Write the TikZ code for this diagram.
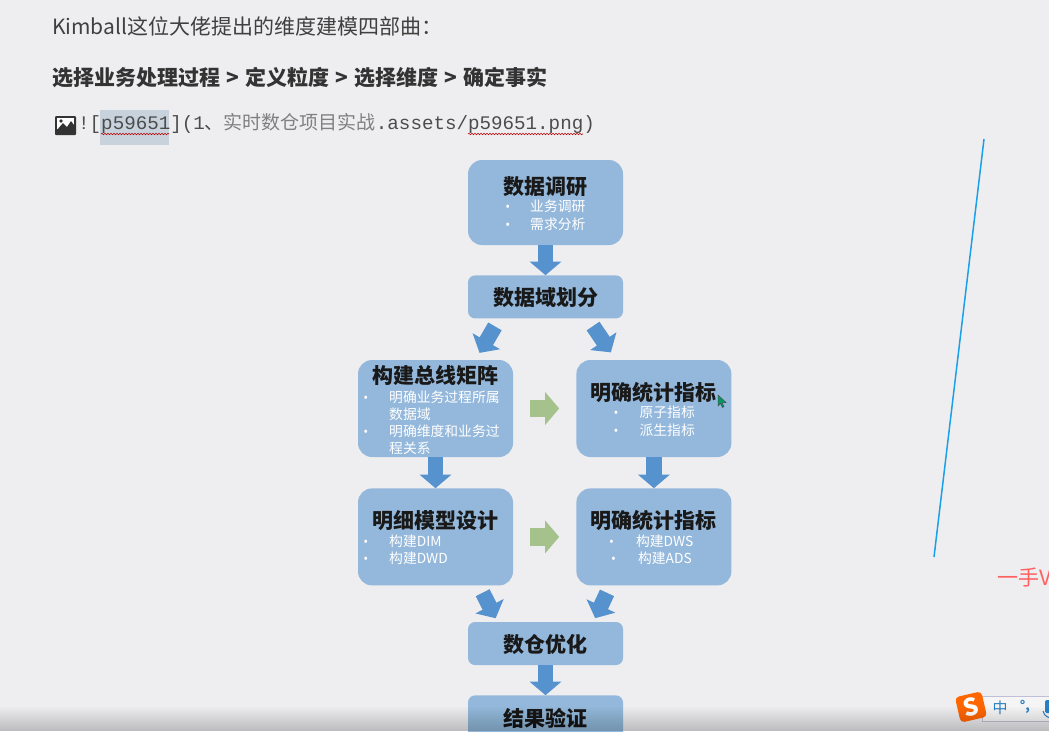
\documentclass[tikz,border=0pt]{standalone}
\usepackage{fontspec}
\usepackage{xcolor}
\setmainfont{Noto Sans CJK SC}
\newfontfamily\monofam{Liberation Mono}
\newfontfamily\latinfam{Open Sans}
\usetikzlibrary{arrows.meta,positioning,decorations.pathmorphing}
\definecolor{pagebg}{HTML}{EEEEF0}
\definecolor{boxblue}{HTML}{94B8DB}
\definecolor{flowblue}{HTML}{5592CE}
\definecolor{flowgreen}{HTML}{A6C28C}
\definecolor{bodytxt}{HTML}{404040}
\definecolor{imeblue}{HTML}{2A7FC4}
\definecolor{markbg}{HTML}{C8D2DC}
\definecolor{slashblue}{HTML}{1AA0E8}
\newcommand{\bul}[1]{\llap{{\latinfam\fontsize{13}{13}\selectfont •}\hspace{#1pt}}}
\newcommand{\code}[1]{{\monofam\fontsize{19.2}{22}\selectfont #1}}
\newcommand{\cjkcode}[1]{{\fontsize{19}{22}\selectfont #1}}
\newcommand{\gap}{\hspace{6.2pt}}

\begin{document}
\begin{tikzpicture}[
    x=1pt, y=-1pt,
    node distance=30pt and 63pt,
    block/.style={rectangle, rounded corners=14pt, fill=boxblue, inner sep=0pt, minimum width=155pt, minimum height=97pt},
    bar/.style={rectangle, rounded corners=7pt, fill=boxblue, inner sep=0pt, minimum width=155pt, minimum height=43pt},
    head/.style={font=\fontsize{21}{24}\selectfont\bfseries, text=black!90, inner sep=0pt},
    item/.style={anchor=west, font=\fontsize{13.8}{16}\selectfont, text=white, inner sep=0pt},
    line/.style={anchor=west, inner sep=0pt, text=bodytxt},
    arrow/.style={-{Triangle[length=13.5pt,width=31pt]}, line width=15.5pt, draw=flowblue},
    goon/.style={-{Triangle[length=14pt,width=32pt]}, line width=17.5pt, draw=flowgreen, shorten <=17pt, shorten >=17pt},
    wavy/.style={red!75!black, line width=.6pt, decorate, decoration={snake,amplitude=.7pt,segment length=3pt}}
]
\clip (0,0) rectangle (1049,731);
\fill[pagebg] (0,0) rectangle (1049,731);

% top text
\node[line, font=\fontsize{21}{25}\selectfont] (intro) at (52,26) {Kimball这位大佬提出的维度建模四部曲：};
\node[line, font=\fontsize{21}{25}\selectfont\bfseries, text=black!80] (steps) at (52,78) {选择业务处理过程\gap{}>\gap{}定义粒度\gap{}>\gap{}选择维度\gap{}>\gap{}确定事实};
\fill[markbg] (100,110) rectangle (169,145);
\node[line, text=black!70] (mdlink) at (78,123) {\code{![p59651](1}\cjkcode{、}\color{black!50}\cjkcode{实时数仓项目实战}\color{black!70}\code{.assets/p59651.png)}};
\draw[wavy] (101,134) -- (169,134);
\draw[wavy] (468,134) -- (583,134);
% image icon
\fill[black!80, rounded corners=1pt] (55,116) rectangle (76,135);
\fill[white] (57,118) rectangle (74,129);
\fill[black!80] (57,130) -- (63,123) -- (67,127) -- (71,121) -- (74,125) -- (74,130) -- cycle;
\fill[black!80] (61,121) circle (1.8);

% flow boxes
\node[block, minimum height=85pt] (research) at (545.5,202.5) {};
\node[bar, below=of research] (split) {};
\node[block] (bus) at (435.5,408.5) {};
\node[block, right=of bus] (stats) {};
\node[block, below=31pt of bus] (detail) {};
\node[block, below=31pt of stats] (summary) {};
\node[bar] (tune) at (545.5,643.5) {};
\node[bar, below=30pt of tune, minimum height=50pt] (verify) {};

% titles
\node[head] (researchhead) at ([yshift=15.5pt]research.center) {数据调研};
\node[head] (splithead) at ([yshift=-1pt]split.center) {数据域划分};
\node[head] (bushead) at ([yshift=32.5pt]bus.center) {构建总线矩阵};
\node[head] (statshead) at ([yshift=16.5pt]stats.center) {明确统计指标};
\node[head] (detailhead) at ([yshift=16.5pt]detail.center) {明细模型设计};
\node[head] (summaryhead) at ([yshift=16.5pt]summary.center) {明确统计指标};
\node[head] (tunehead) at ([yshift=-1.5pt]tune.center) {数仓优化};
\node[head] (verifyhead) at ([yshift=2pt]verify.center) {结果验证};

% lists
\node[item] (researcha) at ([xshift=-15.5pt,yshift=-3.5pt]research.center) {\bul{20}业务调研};
\node[item] (researchb) at ([xshift=-15.5pt,yshift=-21.5pt]research.center) {\bul{20}需求分析};
\node[item] (busa) at ([xshift=-46.5pt,yshift=11.5pt]bus.center) {\bul{21}明确业务过程所属};
\node[item] (busb) at ([xshift=-46.5pt,yshift=-5.5pt]bus.center) {数据域};
\node[item] (busc) at ([xshift=-46.5pt,yshift=-22.5pt]bus.center) {\bul{21}明确维度和业务过};
\node[item] (busd) at ([xshift=-46.5pt,yshift=-39.5pt]bus.center) {程关系};
\node[item] (statsa) at ([xshift=-14.5pt,yshift=-3.5pt]stats.center) {\bul{21}原子指标};
\node[item] (statsb) at ([xshift=-14.5pt,yshift=-21.5pt]stats.center) {\bul{21}派生指标};
\node[item] (detaila) at ([xshift=-46.5pt,yshift=-4.5pt]detail.center) {\bul{21}构建DIM};
\node[item] (detailb) at ([xshift=-46.5pt,yshift=-21.5pt]detail.center) {\bul{21}构建DWD};
\node[item] (summarya) at ([xshift=-18pt,yshift=-4.5pt]summary.center) {\bul{22}构建DWS};
\node[item] (summaryb) at ([xshift=-16pt,yshift=-21.5pt]summary.center) {\bul{22}构建ADS};

% flow arrows
\draw[arrow] (research) -- (split);
\draw[arrow, shorten <=9pt, shorten >=8pt] ([xshift=-46pt]split.south) -- ([xshift=40pt]bus.north);
\draw[arrow, shorten <=9pt, shorten >=9pt] ([xshift=42.5pt]split.south) -- ([xshift=-38pt]stats.north);
\draw[arrow] (bus) -- (detail);
\draw[arrow] (stats) -- (summary);
\draw[arrow, shorten <=8pt, shorten >=4pt] ([xshift=43.5pt]detail.south) -- ([xshift=-48pt]tune.north);
\draw[arrow, shorten <=8pt, shorten >=4pt] ([xshift=-43.5pt]summary.south) -- ([xshift=48pt]tune.north);
\draw[arrow] (tune) -- (verify);
\draw[goon] (bus) -- (stats);
\draw[goon] (detail) -- (summary);

% pointer
\fill[teal!80!green, draw=black!70, line width=.5pt] (718,395) -- (718,406) -- (720.5,403.5) -- (722.5,407.5) -- (724,406.5) -- (722,403) -- (726,402.5) -- cycle;

% side marks
\coordinate (slashtop) at (984,139);
\coordinate (slashend) at (934,557);
\draw[draw=slashblue, line width=1.5pt] (slashtop) -- (slashend);
\node[line, font=\fontsize{21}{25}\selectfont, text=red!50!pink] (mark) at (997,577) {一手V};

% input method bar
\node[rectangle, fill=white!40!pagebg, draw=blue!25!gray!40, line width=1pt, minimum width=90pt, minimum height=25pt, inner sep=0pt, anchor=west] (imebar) at (982,708.5) {};
\node[rectangle, rounded corners=4pt, fill=orange!80!red, rotate=13, minimum width=27pt, minimum height=26pt, inner sep=0pt] (imelogo) at (971,707) {};
\node[font=\fontsize{24}{26}\selectfont\bfseries, text=white, rotate=13, inner sep=0pt] (imes) at (imelogo) {S};
\node[font=\fontsize{15}{18}\selectfont, text=imeblue, inner sep=0pt] (imecn) at (1000,708) {中};
\node[font=\fontsize{13}{16}\selectfont\bfseries, text=imeblue, inner sep=0pt] (imedot) at (1025,707) {°,};
\fill[imeblue, rounded corners=2pt] (1045,700) rectangle (1052,713);
\draw[imeblue, line width=1pt] (1043,711) .. controls (1044,717) and (1050,718) .. (1052,718);

% shadow at the foot of the page
\foreach \rowy in {707,709,...,729}
  \fill[black, opacity=.015] (0,\rowy) rectangle (1049,731);
\end{tikzpicture}
\end{document}
